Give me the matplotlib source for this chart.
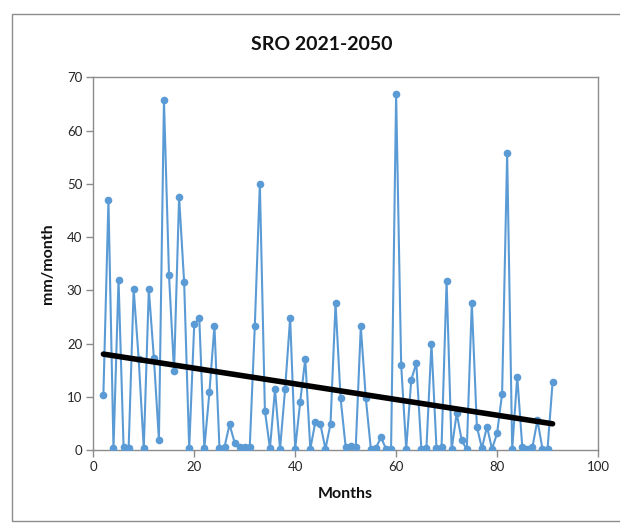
import numpy as np
import matplotlib
matplotlib.use("Agg")
import matplotlib.pyplot as plt
from matplotlib.patches import Rectangle

# Monthly surface runoff, months 2..91
months = list(range(2, 92))
runoff = [
    10.4, 46.9, 0.3, 32.0, 0.5, 0.3, 30.2, 17.0, 0.3, 30.2,
    17.3, 1.9, 65.7, 32.8, 14.8, 47.5, 31.5, 0.3, 23.6, 24.8,
    0.3, 10.8, 23.3, 0.3, 0.6, 4.8, 1.4, 0.6, 0.5, 0.6,
    23.3, 50.0, 7.4, 0.3, 11.4, 0.2, 11.4, 24.8, 0.2, 9.1,
    17.1, 0.2, 5.3, 4.8, 0.2, 4.9, 27.6, 9.7, 0.6, 0.8,
    0.5, 23.2, 9.7, 0.1, 0.4, 2.4, 0.2, 0.2, 66.8, 16.0,
    0.2, 13.2, 16.3, 0.2, 0.3, 20.0, 0.3, 0.5, 31.8, 0.1,
    6.9, 1.8, 0.1, 27.6, 4.4, 0.3, 4.4, 0.2, 3.1, 10.6,
    55.7, 0.1, 13.8, 0.5, 0.1, 0.5, 5.6, 0.2, 0.2, 12.7,
]
x_ticks = [0, 20, 40, 60, 80, 100]
y_ticks = [0, 10, 20, 30, 40, 50, 60, 70]

plt.rcParams['font.family'] = ['Lato', 'DejaVu Sans']

W, H = 620, 525
fig = plt.figure(figsize=(W / 100, H / 100), dpi=100)
ax = fig.add_axes([93.3 / W, 75 / H, 504.7 / W, 372.7 / H])

blue = '#5B9BD5'
ax.plot(months, runoff, color=blue, lw=1.5, marker='o', ms=4.5,
        markerfacecolor=blue, markeredgecolor=blue, zorder=3)

# Linear trend line
coef = np.polyfit(months, runoff, 1)
xt = np.array([months[0], months[-1]])
ax.plot(xt, np.polyval(coef, xt), color='black', lw=4, solid_capstyle='round', zorder=4)

ax.set_xlim(0, 100)
ax.set_ylim(0, 70)
ax.set_xticks(x_ticks)
ax.set_yticks(y_ticks)

spine_c = '#8C8C8C'
for s in ax.spines.values():
    s.set_color(spine_c)
    s.set_linewidth(1.0)
ax.tick_params(axis='both', direction='out', length=5, width=1.0, color=spine_c,
               labelsize=9.5, labelcolor='#262626', pad=3)

fig.text(322 / W, 1 - 44 / H, 'SRO 2021-2050', fontsize=14, fontweight='bold',
         color='#111111', ha='center', va='center')
ax.set_xlabel('Months', fontsize=11.5, fontweight='bold', color='#111111', va='center')
ax.set_ylabel('mm/month', fontsize=11.5, fontweight='bold', color='#111111', va='center')
ax.xaxis.set_label_coords(0.5, (450 - 494) / 372.7)
ax.yaxis.set_label_coords((48 - 93.3) / 504.7, 0.5)

# Chart area border
fig.patches.append(Rectangle((12 / W, 4 / H), 640 / W, 507 / H,
                             transform=fig.transFigure, fill=False,
                             edgecolor='#8C8C8C', lw=1.0, clip_on=False))

fig.savefig('out.png', dpi=100)
